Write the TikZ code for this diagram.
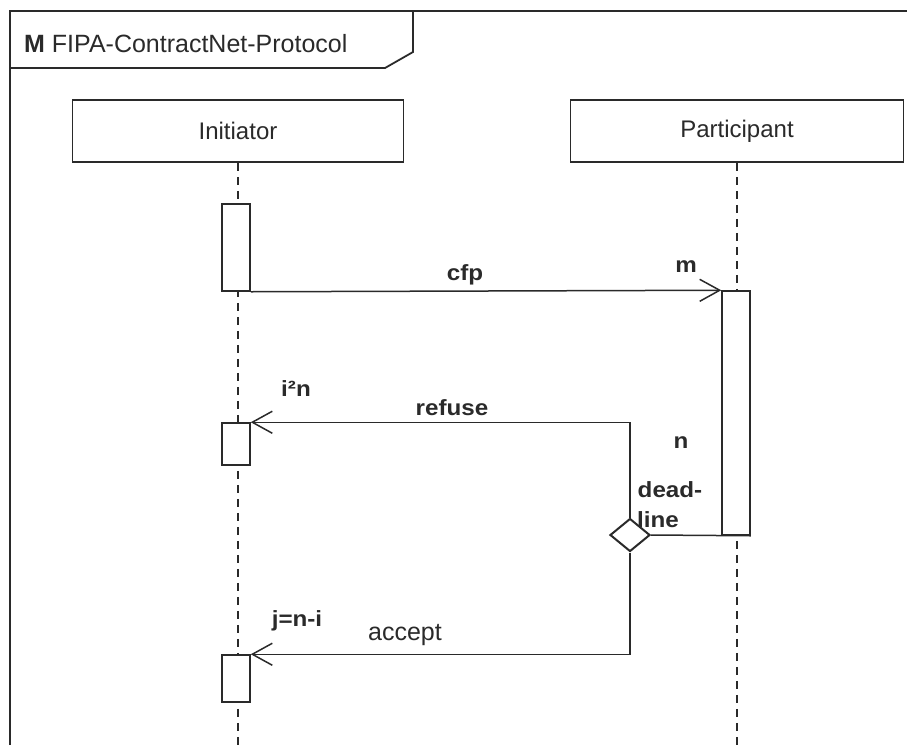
\documentclass[tikz,border=0pt]{standalone}
\usepackage{fontspec}
\setmainfont{Liberation Sans}
\usetikzlibrary{arrows.meta,shapes.geometric}
\definecolor{ink}{HTML}{2A2A2A}
\begin{document}
\begin{tikzpicture}[x=1pt,y=1pt,
  every node/.style={text=ink},
  frameline/.style={draw=ink,line width=1.8pt},
  lifehead/.style={draw=ink,line width=1.5pt,rectangle,minimum height=62pt,inner sep=0pt,font=\fontsize{24}{26}\selectfont},
  actbox/.style={draw=ink,line width=1.5pt,fill=white,rectangle,minimum width=28pt,inner sep=0pt},
  lifeline/.style={draw=ink,line width=1.3pt,dash pattern=on 8pt off 6pt},
  msg/.style={draw=ink,line width=1.5pt,-{Straight Barb[length=20pt,width=22pt,line width=1.5pt]}},
  plain/.style={draw=ink,line width=1.5pt},
  lbl/.style={font=\fontsize{22}{24}\selectfont\bfseries,xscale=1.1,transform shape,inner sep=0pt},
  guard/.style={draw=ink,line width=2pt,fill=white,diamond,minimum width=40pt,minimum height=33pt,inner sep=0pt}
]
\useasboundingbox (0,0) rectangle (907,-745);
% frame
\coordinate (fbl) at (10,-745);
\coordinate (ftl) at (10,-11);
\coordinate (ftr) at (907,-11);
\draw[frameline] (fbl) -- (ftl) -- (ftr);
\draw[frameline] (10,-68) -- (385,-68) -- (413,-52) -- (413,-11);
\node[anchor=west,inner sep=0pt,font=\fontsize{25}{27}\selectfont] (title) at (24,-44) {\textbf{M} FIPA-ContractNet-Protocol};
% lifeline heads
\node[lifehead,minimum width=331pt] (init) at (238,-131) {Initiator};
\node[lifehead,minimum width=333pt] (part) at (737,-131) {Participant};
\coordinate (initend) at (238,-745);
\coordinate (partend) at (737,-745);
\draw[lifeline] (init.south) -- (initend);
\draw[lifeline] (part.south) -- (partend);
% activations
\node[actbox,minimum height=87pt] (a1) at (236,-247.5) {};
\node[actbox,minimum height=244pt] (a2) at (736,-413) {};
\node[actbox,minimum height=42pt] (a3) at (236,-444) {};
\node[actbox,minimum height=47pt] (a4) at (236,-678.5) {};
% decision diamond
\node[guard] (d) at (630,-535) {};
% messages
\draw[msg] (a1.south east) -- (a2.north west);
\draw[msg] (d.north) |- (a3.north east);
\draw[msg] (d.south) |- (a4.north east);
\draw[plain] (d.east) -- (a2.south east);
% labels
\node[lbl] (lcfp) at (465,-275) {cfp};
\node[lbl] (lm) at (686,-267) {m};
\node[lbl] (lin) at (296,-389) {i²n};
\node[lbl] (lref) at (452,-408) {refuse};
\node[lbl] (ln) at (681,-443) {n};
\node[lbl] (ldead) at (670,-490) {dead-};
\node[lbl] (lline) at (658,-520) {line};
\node[lbl] (ljni) at (297,-621) {j=n-i};
\node[inner sep=0pt,font=\fontsize{25}{27}\selectfont] (lacc) at (405,-635) {accept};
\end{tikzpicture}
\end{document}
